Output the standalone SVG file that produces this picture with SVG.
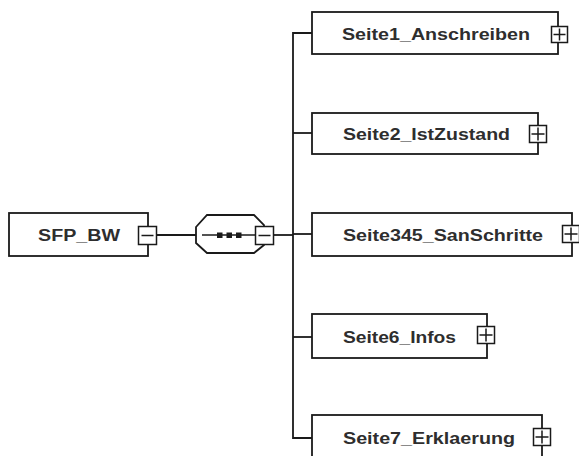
<svg xmlns="http://www.w3.org/2000/svg" width="579" height="456" viewBox="0 0 579 456">
<style>
.box{fill:#fff;stroke:#1a1a1a;stroke-width:1.8}
.btn{fill:#fff;stroke:#1a1a1a;stroke-width:1.5}
.sym{stroke:#1a1a1a;stroke-width:1.5;fill:none}
.ln{stroke:#1a1a1a;stroke-width:1.8;fill:none}
.lbl{font-family:"Liberation Sans",Arial,sans-serif;font-weight:bold;font-size:16px;fill:#2e2e2e}
</style>
<rect width="579" height="456" fill="#fff"/>
<g id="connectors">
<line class="ln" x1="157" y1="235" x2="196" y2="235"/>
<line class="ln" x1="274" y1="235" x2="293" y2="235"/>
<path class="ln" d="M312 33 H293 V438 H312"/>
<line class="ln" x1="293" y1="133" x2="312" y2="133"/>
<line class="ln" x1="293" y1="234" x2="312" y2="234"/>
<line class="ln" x1="293" y1="337" x2="312" y2="337"/>
</g>
<g id="SFP_BW">
<rect class="box" x="9" y="213" width="139" height="43"/>
<text class="lbl" x="38" y="241" textLength="82" lengthAdjust="spacingAndGlyphs">SFP_BW</text>
<rect class="btn" x="138.5" y="226.5" width="18" height="18"/>
<line class="sym" x1="141.5" y1="235.5" x2="153.5" y2="235.5"/>
</g>
<g id="sequence">
<path class="box" d="M196 227 L207 215 H254 L264 225 V245 L254 253 H207 L196 243 Z"/>
<line class="sym" x1="202" y1="235" x2="255" y2="235"/>
<rect x="217" y="232.5" width="5.5" height="5.5" fill="#1a1a1a"/>
<rect x="226.5" y="232.5" width="5.5" height="5.5" fill="#1a1a1a"/>
<rect x="236" y="232.5" width="5.5" height="5.5" fill="#1a1a1a"/>
<rect class="btn" x="255.5" y="226.5" width="18" height="18"/>
<line class="sym" x1="258.5" y1="235.5" x2="270.5" y2="235.5"/>
</g>
<g id="Seite1_Anschreiben">
<rect class="box" x="312" y="12" width="246" height="42"/>
<text class="lbl" x="342" y="39.5" textLength="188" lengthAdjust="spacingAndGlyphs">Seite1_Anschreiben</text>
<rect class="btn" x="551.5" y="26.5" width="16" height="16"/>
<path class="sym" d="M553.5 34.5 H565.5 M559.5 28.5 V40.5"/>
</g>
<g id="Seite2_IstZustand">
<rect class="box" x="312" y="113" width="226" height="41"/>
<text class="lbl" x="343" y="140" textLength="167" lengthAdjust="spacingAndGlyphs">Seite2_IstZustand</text>
<rect class="btn" x="529.5" y="125.5" width="17" height="17"/>
<path class="sym" d="M531.5 134 H544.5 M538 127.5 V140.5"/>
</g>
<g id="Seite345_SanSchritte">
<rect class="box" x="312" y="213" width="260" height="43"/>
<text class="lbl" x="343" y="240.5" textLength="200" lengthAdjust="spacingAndGlyphs">Seite345_SanSchritte</text>
<rect class="btn" x="562.5" y="225.5" width="17" height="17"/>
<path class="sym" d="M564.5 234 H577.5 M571 227.5 V240.5"/>
</g>
<g id="Seite6_Infos">
<rect class="box" x="312" y="314" width="175" height="44"/>
<text class="lbl" x="343" y="342.5" textLength="113" lengthAdjust="spacingAndGlyphs">Seite6_Infos</text>
<rect class="btn" x="477.5" y="326.5" width="17" height="17"/>
<path class="sym" d="M479.5 335 H492.5 M486 328.5 V341.5"/>
</g>
<g id="Seite7_Erklaerung">
<rect class="box" x="312" y="415" width="230" height="45"/>
<text class="lbl" x="343" y="443.5" textLength="172" lengthAdjust="spacingAndGlyphs">Seite7_Erklaerung</text>
<rect class="btn" x="533.5" y="428.5" width="17" height="17"/>
<path class="sym" d="M535.5 437 H548.5 M542 430.5 V443.5"/>
</g>
</svg>
